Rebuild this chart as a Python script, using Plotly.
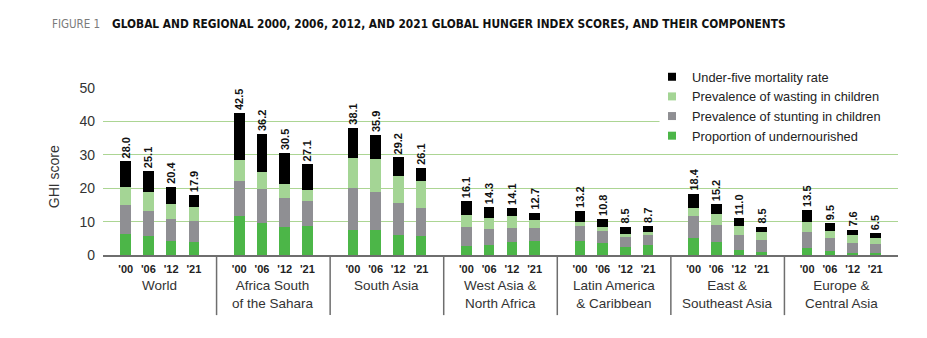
import plotly.graph_objects as go

# Regions (group labels) and survey years
regions = ["World", "Africa South<br>of the Sahara", "South Asia", "West Asia &<br>North Africa",
           "Latin America<br>& Caribbean", "East &<br>Southeast Asia", "Europe &<br>Central Asia"]
years = ["'00", "'06", "'12", "'21"]

# GHI score components, four years per region in region order
undernourished = [6.4, 5.6, 4.3, 4.0,
                  11.6, 9.7, 8.5, 8.8,
                  7.6, 7.6, 6.1, 5.8,
                  2.8, 3.1, 4.0, 4.3,
                  4.3, 3.7, 2.5, 3.1,
                  5.2, 4.0, 1.6, 1.0,
                  2.2, 1.3, 0.7, 0.7]
stunting = [8.7, 7.7, 6.6, 6.3,
            10.6, 10.2, 8.7, 7.5,
            12.5, 11.4, 9.6, 8.4,
            5.7, 4.8, 4.2, 3.9,
            4.5, 3.6, 3.0, 3.0,
            6.6, 5.1, 4.5, 3.6,
            4.8, 3.9, 3.0, 2.7]
wasting = [5.3, 5.7, 4.5, 4.0,
           6.1, 5.0, 4.1, 3.3,
           9.0, 9.8, 8.0, 8.0,
           3.6, 3.3, 3.6, 2.4,
           1.2, 1.2, 0.9, 0.9,
           2.4, 3.3, 2.7, 2.4,
           3.0, 2.1, 2.4, 1.8]
mortality = [7.6, 6.1, 5.0, 3.6,
             14.2, 11.3, 9.2, 7.5,
             9.0, 7.1, 5.5, 3.9,
             4.0, 3.1, 2.3, 2.1,
             3.2, 2.3, 2.1, 1.7,
             4.2, 2.8, 2.2, 1.5,
             3.5, 2.2, 1.5, 1.3]
ghi_total = [28.0, 25.1, 20.4, 17.9,
             42.5, 36.2, 30.5, 27.1,
             38.1, 35.9, 29.2, 26.1,
             16.1, 14.3, 14.1, 12.7,
             13.2, 10.8, 8.5, 8.7,
             18.4, 15.2, 11.0, 8.5,
             13.5, 9.5, 7.6, 6.5]

series = [
    ("Proportion of undernourished", undernourished, "#4cb648"),
    ("Prevalence of stunting in children", stunting, "#8f8f93"),
    ("Prevalence of wasting in children", wasting, "#a4d595"),
    ("Under-five mortality rate", mortality, "#000000"),
]

# each region occupies a slot of 5 units: 4 bars and one unit of spacing
SLOT = 5
xpos = [g * SLOT + 1 + k for g in range(len(regions)) for k in range(len(years))]
tick_text = ["<b>%s</b>" % y for _ in regions for y in years]

BODY = "Liberation Sans, Arial, sans-serif"
NARROW = "Liberation Sans Narrow, DejaVu Sans Condensed, Arial Narrow, sans-serif"

fig = go.Figure()
for i, (name, vals, color) in enumerate(series):
    top = i == len(series) - 1
    fig.add_trace(go.Bar(
        x=xpos, y=vals, name=name, marker=dict(color=color, line=dict(width=0)),
        width=0.46, showlegend=False, cliponaxis=False,
        text=["<b>%.1f</b>" % v for v in ghi_total] if top else None,
        textposition="outside" if top else "none",
        textangle=-90, constraintext="none",
        outsidetextfont=dict(family=BODY, size=11, color="#111111"),
        hoverinfo="skip",
    ))

# legend entries with small square swatches, top of stack first
for name, vals, color in reversed(series):
    fig.add_trace(go.Scatter(
        x=[None], y=[None], mode="markers", name=name,
        marker=dict(symbol="square", size=8, color=color),
    ))

shapes = []
# dividers between regions, hanging below the baseline
for g in range(1, len(regions)):
    shapes.append(dict(type="line", xref="x", yref="paper", x0=g * SLOT, x1=g * SLOT,
                       y0=0, y1=-0.36, line=dict(color="#6e6e6e", width=1.5)))
# white panel behind the legend
shapes.append(dict(type="rect", xref="paper", yref="paper", x0=0.70, x1=1.05, y0=0.66, y1=1.18,
                   fillcolor="white", line=dict(width=0), layer="above"))

annotations = []
for g, reg in enumerate(regions):
    annotations.append(dict(
        x=g * SLOT + 2.5, xref="x", y=-0.128, yref="paper", yanchor="top", xanchor="center",
        text=reg, showarrow=False, align="center",
        font=dict(family=BODY, size=13.5, color="#333333")))
annotations.append(dict(
    x=-0.062, xref="paper", y=0.47, yref="paper", text="GHI score", textangle=-90,
    showarrow=False, xanchor="center", yanchor="middle",
    font=dict(family=BODY, size=14, color="#333333")))
annotations.append(dict(
    x=-0.0667, xref="paper", y=1.386, yref="paper", xanchor="left", yanchor="middle",
    text="FIGURE 1", showarrow=False, font=dict(family=NARROW, size=11.5, color="#7a7a7a")))
annotations.append(dict(
    x=0.0088, xref="paper", y=1.386, yref="paper", xanchor="left", yanchor="middle",
    text="<b>GLOBAL AND REGIONAL 2000, 2006, 2012, AND 2021 GLOBAL HUNGER INDEX SCORES, AND THEIR COMPONENTS</b>",
    showarrow=False, font=dict(family=NARROW, size=11.8, color="#111111")))

fig.update_layout(
    width=927, height=338,
    margin=dict(l=103, r=29, t=88, b=83),
    paper_bgcolor="white", plot_bgcolor="white",
    barmode="stack",
    font=dict(family=BODY, color="#333333"),
    xaxis=dict(range=[0, len(regions) * SLOT], tickvals=xpos, ticktext=tick_text,
               showgrid=False, zeroline=False, showline=True, linecolor="#6e6e6e", linewidth=2,
               ticks="", ticklabelstandoff=3,
               tickfont=dict(family=BODY, size=11, color="#222222")),
    yaxis=dict(range=[0, 50], tickvals=[0, 10, 20, 30, 40, 50], showgrid=True,
               gridcolor="#acd593", gridwidth=1.2, zeroline=False, ticks="",
               ticklabelstandoff=7, tickfont=dict(family=BODY, size=14, color="#333333")),
    legend=dict(x=0.6906, y=1.156, xanchor="left", yanchor="top", bgcolor="rgba(0,0,0,0)",
                traceorder="normal", font=dict(family=BODY, size=12.8, color="#222222"),
                itemclick=False, itemdoubleclick=False),
    shapes=shapes, annotations=annotations,
)

fig.write_html("out.html")
